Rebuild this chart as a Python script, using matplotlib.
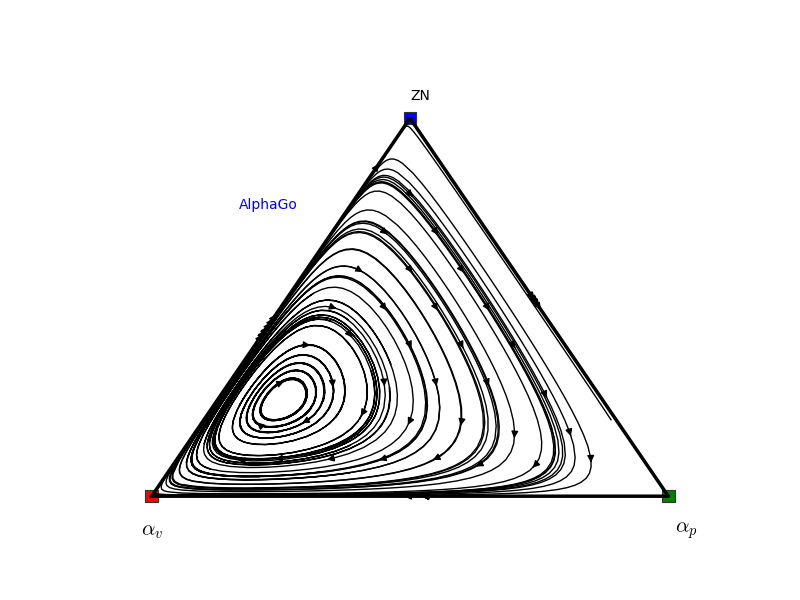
import matplotlib
matplotlib.use("Agg")
import matplotlib.pyplot as plt
import numpy as np
from matplotlib.patches import Polygon

plt.rcParams["mathtext.fontset"] = "cm"

# strategies, in order: alpha_v, alpha_p, ZN
STRATEGIES = ["$\\alpha_v$", "$\\alpha_p$", "ZN"]
VERTEX_COLORS = ["red", "green", "blue"]
# win rates of row strategy vs column strategy (estimated)
WIN_V = [0.50, 0.70, 0.40]
WIN_P = [0.30, 0.50, 0.99]
WIN_Z = [0.60, 0.01, 0.50]
GAME_NAME = "AlphaGo"

H = np.sqrt(3) / 2
CORNERS = np.array([[0.0, 0.0], [1.0, 0.0], [0.5, H]])


def replicator(xv, xp, xz, payoff):
    x = np.stack([xv, xp, xz])
    fit = np.tensordot(payoff, x, axes=1)
    avg = (x * fit).sum(axis=0)
    return x * (fit - avg)


def to_cart(xv, xp, xz):
    return xp + 0.5 * xz, H * xz


def simplex_field(payoff, n=100):
    gx = np.linspace(0, 1, n)
    gy = np.linspace(0, H, n)
    X, Y = np.meshgrid(gx, gy)
    xz = Y / H
    xp = X - 0.5 * xz
    xv = 1 - xp - xz
    d = replicator(xv, xp, xz, payoff)
    U = d[1] + 0.5 * d[2]
    V = H * d[2]
    outside = (xv < -0.03) | (xp < -0.03) | (xz < -0.03)
    U = np.ma.array(U, mask=outside)
    V = np.ma.array(V, mask=outside)
    return X, Y, U, V


def seed_points(steps=10):
    pts = []
    for i in range(steps + 1):
        for j in range(steps + 1 - i):
            k = steps - i - j
            if max(i, j, k) == steps:
                continue
            pts.append(to_cart(i / steps, j / steps, k / steps))
    return np.array(pts)


def main():
    payoff = np.array([WIN_V, WIN_P, WIN_Z])
    X, Y, U, V = simplex_field(payoff)

    fig = plt.figure(figsize=(8, 6), dpi=100)
    ax = fig.add_subplot(111)
    ax.set_xlim(-0.1, 1.1)
    ax.set_ylim(-0.0866, 0.972)
    ax.axis("off")

    ax.scatter(CORNERS[:, 0], CORNERS[:, 1], s=80, marker="s",
               c=VERTEX_COLORS, edgecolors="#333333", linewidths=0.8, zorder=1)
    tri = np.vstack([CORNERS, CORNERS[:1]])
    ax.plot(tri[:, 0], tri[:, 1], color="k", lw=2.5, zorder=2)

    sp = ax.streamplot(X, Y, U, V, color="k", linewidth=1.0, density=1.0,
                       arrowsize=1.0, start_points=seed_points(), maxlength=2.0,
                       broken_streamlines=False, zorder=3)

    # keep the flow lines inside the simplex
    clip = Polygon(CORNERS, closed=True, transform=ax.transData)
    sp.lines.set_clip_path(clip)

    ax.text(CORNERS[0, 0], CORNERS[0, 1] - 0.08, STRATEGIES[0], fontsize=15,
            ha="center", va="center")
    ax.text(CORNERS[1, 0] + 0.035, CORNERS[1, 1] - 0.08, STRATEGIES[1], fontsize=15,
            ha="center", va="center")
    ax.text(CORNERS[2, 0] + 0.02, CORNERS[2, 1] + 0.05, STRATEGIES[2], fontsize=10,
            ha="center", va="center")
    ax.text(0.271, 0.712, GAME_NAME, color="blue", fontsize=10,
            ha="center", va="center", transform=ax.transAxes)

    fig.savefig("out.png", dpi=100)
    plt.close(fig)


if __name__ == "__main__":
    main()
